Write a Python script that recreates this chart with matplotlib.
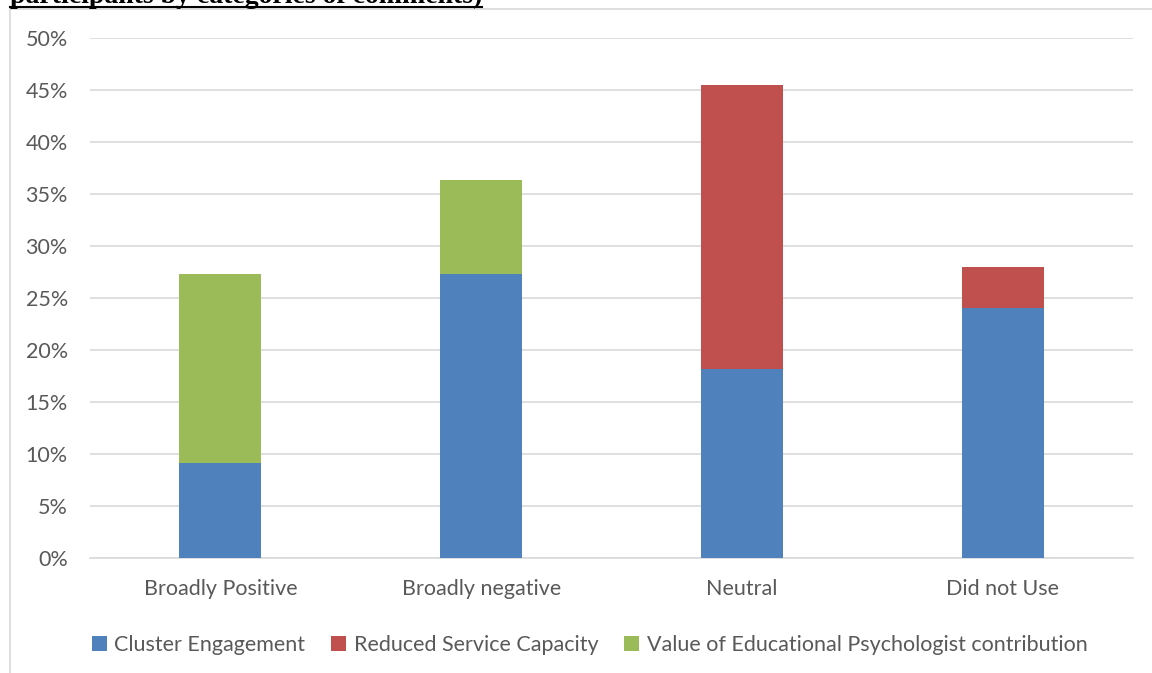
import matplotlib

matplotlib.use("Agg")
import matplotlib.pyplot as plt
import numpy as np
from matplotlib.lines import Line2D

categories = ["Broadly Positive", "Broadly negative", "Neutral", "Did not Use"]
series = ["Cluster Engagement", "Reduced Service Capacity",
          "Value of Educational Psychologist contribution"]
cluster = [9.09, 27.27, 18.18, 24.0]
reduced = [0.0, 0.0, 27.27, 4.0]
value_ep = [18.18, 9.09, 0.0, 0.0]

BLUE = "#4F81BD"
RED = "#C0504D"
GREEN = "#9BBB59"
TXT = "#595959"
GRID = "#D9D9D9"

W, H = 1152, 673
fig = plt.figure(figsize=(W / 100, H / 100), dpi=100)
plt.rcParams["font.family"] = ["Lato", "DejaVu Sans"]

# chart area frame (open to the right / bottom)
fig.add_artist(Line2D([10 / W, 10 / W], [0, 1 - 9 / H], transform=fig.transFigure,
                      color=GRID, lw=1.2))
fig.add_artist(Line2D([10 / W, 1], [1 - 9 / H, 1 - 9 / H], transform=fig.transFigure,
                      color=GRID, lw=1.2))

# heading of the page, cut by the top edge, underlined
t = fig.text(10 / W, 1 - 3 / H, "participants by categories of comments)",
             family="Liberation Serif", weight="bold", fontsize=20,
             color="black", va="baseline", ha="left")
fig.canvas.draw()
bb = t.get_window_extent()
fig.add_artist(Line2D([bb.x0 / W, bb.x1 / W], [1 - 7 / H, 1 - 7 / H],
                      transform=fig.transFigure, color="black", lw=1.5))

ax = fig.add_axes([90 / W, 115 / H, 1043 / W, 520 / H])
x = np.arange(len(categories))
bw = 0.315
ax.bar(x, cluster, bw, color=BLUE, label=series[0], zorder=3)
b1 = np.array(cluster)
ax.bar(x, reduced, bw, bottom=b1, color=RED, label=series[1], zorder=3)
b2 = b1 + np.array(reduced)
ax.bar(x, value_ep, bw, bottom=b2, color=GREEN, label=series[2], zorder=3)

ax.set_xlim(-0.5, len(categories) - 0.5)
ax.set_ylim(0, 50)
ax.set_yticks(np.arange(0, 51, 5))
ax.set_yticklabels([f"{v}%" for v in range(0, 51, 5)])
ax.set_xticks(x)
ax.set_xticklabels(categories)
ax.yaxis.grid(True, color=GRID, lw=1.2, zorder=0)
for s in ["top", "right", "left"]:
    ax.spines[s].set_visible(False)
ax.spines["bottom"].set_color(GRID)
ax.spines["bottom"].set_linewidth(1.2)
ax.tick_params(axis="both", length=0, colors=TXT, labelsize=15.5)
ax.tick_params(axis="y", pad=16)
ax.tick_params(axis="x", pad=15)

ax.legend(loc="upper center", bbox_to_anchor=(0.479, -0.11), ncol=3, frameon=False,
          fontsize=15.5, labelcolor=TXT, handlelength=0.7, handleheight=0.7,
          handletextpad=0.35, columnspacing=1.2)

fig.savefig("out.png", dpi=100)
